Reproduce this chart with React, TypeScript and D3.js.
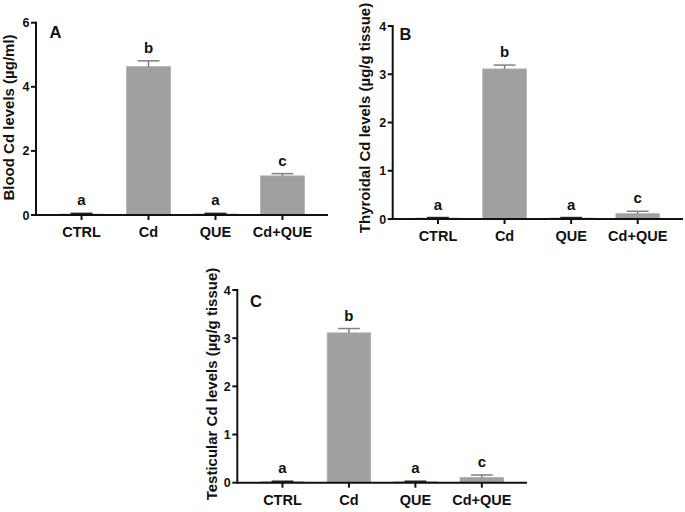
import React from "react";
import * as d3 from "d3";

const categories = ["CTRL", "Cd", "QUE", "Cd+QUE"];
const bloodMeans = [0.03, 4.63, 0.03, 1.22];
const bloodErrors = [0.02, 0.18, 0.02, 0.07];
const bloodLetters = ["a", "b", "a", "c"];
const bloodTicks = [0, 2, 4, 6];
const thyroidMeans = [0.02, 3.11, 0.02, 0.11];
const thyroidErrors = [0.01, 0.08, 0.01, 0.05];
const thyroidLetters = ["a", "b", "a", "c"];
const thyroidTicks = [0, 1, 2, 3, 4];
const testisMeans = [0.02, 3.11, 0.02, 0.11];
const testisErrors = [0.01, 0.09, 0.01, 0.05];
const testisLetters = ["a", "b", "a", "c"];
const testisTicks = [0, 1, 2, 3, 4];

const FONT = "'Liberation Sans', Arial, sans-serif";

type PanelProps = {
  tag: string;
  yLabel: string;
  means: number[];
  errors: number[];
  letters: string[];
  ticks: number[];
  left: number;
  right: number;
  top: number;
  bottom: number;
  labelX: number;
  labelY: number;
  tagX: number;
  tagY: number;
};

function Panel(p: PanelProps) {
  const yMax = p.ticks[p.ticks.length - 1];
  const y = d3.scaleLinear().domain([0, yMax]).range([p.bottom, p.top]);
  const x = d3.scalePoint<string>().domain(categories).range([p.left, p.right]).padding(0.68);
  const step = x.step();
  const bw = step * 0.655;
  const cap = bw * 0.5;
  return (
    <g>
      {categories.map((c, i) => {
        const cx = x(c)!;
        const yv = y(p.means[i]);
        const ye = y(p.means[i] + p.errors[i]);
        return (
          <g key={c}>
            <rect x={cx - bw / 2} y={yv} width={bw} height={p.bottom - yv} fill="#a0a0a0" stroke="#b0b0b0" strokeWidth={0.8} />
            <line x1={cx} x2={cx} y1={yv} y2={ye} stroke="#777" strokeWidth={1.5} />
            <line x1={cx - cap / 2} x2={cx + cap / 2} y1={ye} y2={ye} stroke={p.means[i] < 0.05 ? "#222" : "#808080"} strokeWidth={1.5} />
            <text x={cx} y={ye - 8} textAnchor="middle" fontFamily={FONT} fontWeight="bold" fontSize={15} fill="#111">
              {p.letters[i]}
            </text>
            <line x1={cx} x2={cx} y1={p.bottom} y2={p.bottom + 5} stroke="#111" strokeWidth={2} />
            <text x={cx} y={p.bottom + 22} textAnchor="middle" fontFamily={FONT} fontWeight="bold" fontSize={14.5} fill="#111">
              {c}
            </text>
          </g>
        );
      })}
      {p.ticks.map((t) => (
        <g key={t}>
          <line x1={p.left - 5} x2={p.left} y1={y(t)} y2={y(t)} stroke="#111" strokeWidth={2} />
          <text x={p.left - 6.5} y={y(t) + 4.5} textAnchor="end" fontFamily={FONT} fontWeight="bold" fontSize={12.5} fill="#111">
            {t}
          </text>
        </g>
      ))}
      <line x1={p.left} x2={p.left} y1={p.top - 1} y2={p.bottom + 1} stroke="#111" strokeWidth={2} />
      <line x1={p.left} x2={p.right} y1={p.bottom} y2={p.bottom} stroke="#111" strokeWidth={2} />
      <text
        transform={`translate(${p.labelX},${p.labelY}) rotate(-90)`}
        textAnchor="middle"
        fontFamily={FONT}
        fontWeight="bold"
        fontSize={15}
        fill="#111"
      >
        {p.yLabel}
      </text>
      <text x={p.tagX} y={p.tagY} fontFamily={FONT} fontWeight="bold" fontSize={16.5} fill="#111">
        {p.tag}
      </text>
    </g>
  );
}

export default function App() {
  return (
    <svg width={685} height={512} style={{ position: "absolute", left: 0, top: 0, background: "#fff" }}>
      <rect width={685} height={512} fill="#fff" />
      <Panel tag="A" yLabel="Blood Cd levels (µg/ml)" means={bloodMeans} errors={bloodErrors} letters={bloodLetters} ticks={bloodTicks}
        left={36} right={328} top={22.7} bottom={215} labelX={13.5} labelY={117.5} tagX={49.5} tagY={37.5} />
      <Panel tag="B" yLabel="Thyroidal Cd levels (µg/g tissue)" means={thyroidMeans} errors={thyroidErrors} letters={thyroidLetters} ticks={thyroidTicks}
        left={392.7} right={683} top={26} bottom={219} labelX={370} labelY={118} tagX={399.5} tagY={40} />
      <Panel tag="C" yLabel="Testicular Cd levels (µg/g tissue)" means={testisMeans} errors={testisErrors} letters={testisLetters} ticks={testisTicks}
        left={237.3} right={527} top={290} bottom={482.7} labelX={217} labelY={384} tagX={250} tagY={307} />
    </svg>
  );
}
